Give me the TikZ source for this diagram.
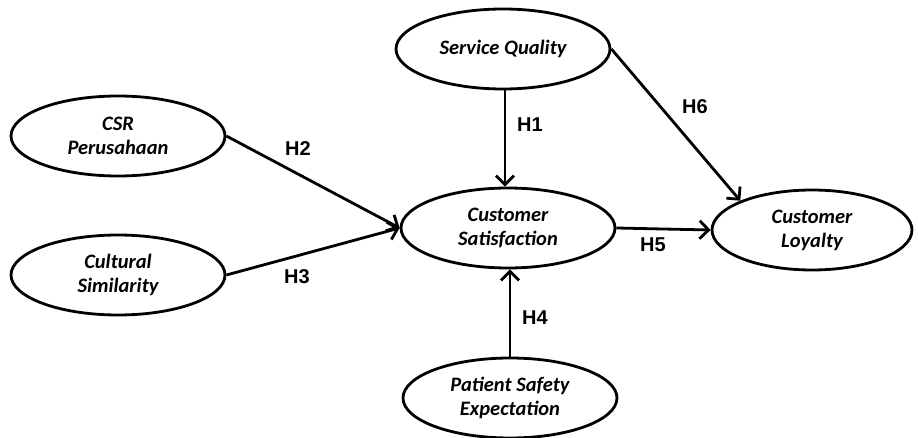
\documentclass[tikz,border=0pt]{standalone}
\usepackage{fontspec}
\setmainfont{Carlito}
\newfontfamily\hfont{Liberation Sans}
\usetikzlibrary{shapes.geometric, arrows.meta}

\begin{document}
\begin{tikzpicture}[x=1pt, y=-1pt,
	construct/.style={ellipse, draw=black, line width=2.8pt, minimum width=214pt, minimum height=80pt, inner sep=0pt, align=center, font=\fontsize{20.5}{24}\selectfont\bfseries\itshape},
	hyp/.style={draw=none, font=\fontsize{20}{23}\selectfont\hfont\bfseries},
	link/.style={draw=black, line width=2.8pt, -{Straight Barb[length=9pt, width=18pt]}}]
	\useasboundingbox (0,0) rectangle (918,438);
	\node[construct] (sq) at (503,49) {Service Quality};
	\node[construct] (csr) at (118,136) {CSR\\Perusahaan};
	\node[construct] (cult) at (118,275) {Cultural\\Similarity};
	\node[construct] (cs) at (508,228) {Customer\\Satisfaction};
	\node[construct, minimum width=200pt] (cl) at (812,230) {Customer\\Loyalty};
	\node[construct] (pse) at (510,398) {Patient Safety\\Expectation};

	\node[hyp] (h1) at (530,125) {H1};
	\node[hyp] (h2) at (298,149) {H2};
	\node[hyp] (h3) at (297,277) {H3};
	\node[hyp] (h4) at (535,318) {H4};
	\node[hyp] (h5) at (653,245) {H5};
	\node[hyp] (h6) at (695,107) {H6};

	\draw[link] (sq.south -| 505,0) -- (cs.north -| 505,0);
	\draw[link] (csr.east) -- (cs.west);
	\draw[link] (cult.east) -- (cs.west);
	\draw[link] (pse.north -| 510,0) -- (cs.south -| 510,0);
	\draw[link] (cs.east) -- (cl.west);
	\draw[link] (sq.east) -- (cl.north west);
\end{tikzpicture}
\end{document}
